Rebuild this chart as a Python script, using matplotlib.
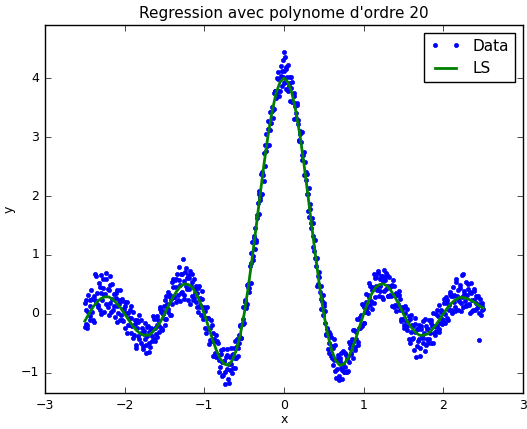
import matplotlib
matplotlib.use('Agg')
import matplotlib.pyplot as plt

plt.style.use('classic')

# noisy samples (x, y)
pts_a = [(-2.50, -0.22), (-2.49, 0.07), (-2.49, -0.17), (-2.48, 0.24), (-2.47, -0.24), (-2.46, 0.03),
         (-2.44, 0.24), (-2.43, -0.11), (-2.43, 0.14), (-2.42, 0.41), (-2.41, 0.03), (-2.39, 0.30),
         (-2.38, -0.14), (-2.37, 0.67), (-2.36, 0.19), (-2.35, 0.35), (-2.34, 0.15), (-2.32, 0.52),
         (-2.31, 0.06), (-2.30, 0.35), (-2.30, 0.66), (-2.29, 0.23), (-2.27, 0.44), (-2.26, 0.04),
         (-2.25, 0.34), (-2.24, 0.59), (-2.23, 0.17), (-2.21, 0.42), (-2.20, -0.02), (-2.19, 0.49),
         (-2.18, 0.19), (-2.18, 0.64), (-2.16, 0.26), (-2.15, 0.06), (-2.14, 0.34), (-2.12, -0.05),
         (-2.11, 0.27), (-2.10, 0.14), (-2.09, 0.41), (-2.08, 0.01), (-2.07, 0.17), (-2.06, -0.10),
         (-2.05, 0.22), (-2.04, -0.01), (-2.03, 0.25), (-2.02, -0.12), (-2.01, 0.09)]
pts_b = [(-2.00, 0.13), (-1.99, -0.23), (-1.98, 0.02), (-1.97, 0.21), (-1.96, -0.18), (-1.95, -0.07),
         (-1.93, 0.06), (-1.92, -0.33), (-1.92, -0.07), (-1.91, -0.20), (-1.90, 0.04), (-1.88, -0.35),
         (-1.87, -0.10), (-1.86, -0.52), (-1.85, -0.23), (-1.84, -0.11), (-1.83, -0.38), (-1.82, -0.02),
         (-1.80, -0.49), (-1.79, -0.32), (-1.78, -0.23), (-1.77, -0.55), (-1.76, -0.29), (-1.75, -0.42),
         (-1.74, -0.15), (-1.73, -0.67), (-1.72, -0.37), (-1.71, -0.20), (-1.70, -0.49), (-1.69, -0.31),
         (-1.68, -0.56), (-1.67, -0.23), (-1.66, -0.37), (-1.64, -0.03), (-1.63, -0.42), (-1.62, -0.23),
         (-1.61, -0.34), (-1.60, -0.04), (-1.59, -0.39), (-1.58, -0.11), (-1.57, -0.20), (-1.56, 0.08),
         (-1.55, -0.24), (-1.54, 0.04), (-1.53, -0.28), (-1.52, 0.00), (-1.51, 0.14)]
pts_c = [(-1.50, -0.08), (-1.49, 0.23), (-1.48, -0.08), (-1.47, 0.17), (-1.46, 0.37), (-1.45, 0.09),
         (-1.44, 0.30), (-1.43, -0.02), (-1.42, 0.26), (-1.41, 0.54), (-1.40, 0.17), (-1.39, 0.46),
         (-1.38, 0.29), (-1.37, 0.58), (-1.36, 0.20), (-1.35, 0.45), (-1.34, 0.68), (-1.33, 0.33),
         (-1.32, 0.57), (-1.31, 0.22), (-1.30, 0.49), (-1.29, 0.67), (-1.28, 0.37), (-1.27, 0.94),
         (-1.26, 0.56), (-1.25, 0.33), (-1.24, 0.72), (-1.23, 0.47), (-1.22, 0.61), (-1.21, 0.23),
         (-1.20, 0.66), (-1.19, 0.42), (-1.18, 0.73), (-1.17, 0.48), (-1.16, 0.31), (-1.15, 0.54),
         (-1.14, 0.23), (-1.13, 0.59), (-1.12, 0.35), (-1.11, 0.48), (-1.10, 0.21), (-1.09, 0.36),
         (-1.08, 0.04), (-1.07, 0.47), (-1.06, 0.16), (-1.05, 0.27), (-1.04, -0.02), (-1.03, 0.25),
         (-1.02, -0.01), (-1.01, 0.07)]
pts_d = [(-1.00, 0.11), (-0.99, -0.23), (-0.98, -0.06), (-0.97, 0.12), (-0.96, -0.25), (-0.95, -0.06),
         (-0.94, -0.51), (-0.93, -0.23), (-0.92, -0.46), (-0.91, -0.18), (-0.90, -0.45), (-0.89, -0.33),
         (-0.88, -0.71), (-0.87, -0.46), (-0.86, -0.67), (-0.85, -0.35), (-0.84, -0.69), (-0.83, -0.50),
         (-0.82, -0.98), (-0.81, -0.69), (-0.80, -0.90), (-0.79, -0.68), (-0.78, -0.82), (-0.77, -0.60),
         (-0.76, -1.03), (-0.75, -0.79), (-0.74, -1.18), (-0.73, -0.73), (-0.72, -0.94), (-0.71, -0.69),
         (-0.70, -1.10), (-0.69, -0.85), (-0.68, -0.95), (-0.67, -0.58), (-0.66, -0.85), (-0.65, -0.70),
         (-0.64, -0.92), (-0.63, -0.58), (-0.62, -0.75), (-0.61, -0.46), (-0.60, -0.75), (-0.59, -0.54),
         (-0.58, -0.72), (-0.57, -0.36), (-0.56, -0.49), (-0.55, -0.20), (-0.54, -0.41), (-0.53, -0.17),
         (-0.52, -0.17), (-0.51, 0.12)]
pts_e = [(-0.50, -0.15), (-0.49, 0.21), (-0.48, 0.14), (-0.47, 0.49), (-0.46, 0.17), (-0.45, 0.50),
         (-0.44, 0.44), (-0.43, 0.81), (-0.42, 0.52), (-0.41, 0.86), (-0.40, 1.22), (-0.39, 0.98),
         (-0.38, 1.29), (-0.37, 1.10), (-0.36, 1.45), (-0.35, 1.22), (-0.34, 1.62), (-0.33, 1.89),
         (-0.32, 1.69), (-0.31, 2.04), (-0.30, 1.99), (-0.29, 2.37), (-0.28, 2.04), (-0.27, 2.41),
         (-0.26, 2.35), (-0.25, 2.73), (-0.24, 2.51), (-0.23, 2.76), (-0.22, 3.05), (-0.21, 2.87),
         (-0.20, 3.14), (-0.19, 2.87), (-0.18, 3.24), (-0.17, 3.43), (-0.16, 3.23), (-0.15, 3.51),
         (-0.14, 3.47), (-0.13, 3.74), (-0.12, 3.47), (-0.11, 3.78), (-0.10, 3.66), (-0.09, 4.00),
         (-0.08, 3.78), (-0.07, 3.98), (-0.06, 3.69), (-0.05, 3.99), (-0.04, 4.21), (-0.03, 3.86),
         (-0.02, 4.12), (-0.01, 4.02)]
pts_f = [(0.00, 4.45), (0.00, 4.12), (0.01, 4.36), (0.01, 3.93), (0.02, 4.18), (0.03, 3.82),
         (0.04, 4.02), (0.05, 4.23), (0.06, 3.87), (0.07, 4.01), (0.08, 3.61), (0.09, 3.83),
         (0.10, 3.93), (0.11, 3.59), (0.12, 3.74), (0.13, 3.30), (0.14, 3.52), (0.15, 3.32),
         (0.16, 3.57), (0.17, 3.22), (0.18, 3.29), (0.19, 2.94), (0.20, 3.10), (0.21, 2.92),
         (0.22, 3.09), (0.23, 2.61), (0.24, 2.69), (0.25, 2.35), (0.26, 2.58), (0.27, 2.28),
         (0.28, 2.41), (0.29, 2.03), (0.30, 2.04), (0.31, 2.14), (0.32, 1.64), (0.33, 1.78),
         (0.34, 1.55), (0.35, 1.62), (0.36, 1.14), (0.37, 1.32), (0.38, 1.07), (0.39, 1.25),
         (0.40, 0.82), (0.41, 0.95), (0.42, 0.47), (0.43, 0.65), (0.44, 0.71), (0.45, 0.37),
         (0.46, 0.48), (0.47, 0.08), (0.48, 0.22), (0.49, -0.01)]
pts_g = [(0.50, 0.14), (0.51, -0.16), (0.52, 0.05), (0.53, -0.35), (0.54, -0.24), (0.55, -0.60),
         (0.56, -0.31), (0.57, -0.49), (0.58, -0.34), (0.59, -0.72), (0.60, -0.55), (0.61, -0.86),
         (0.62, -0.57), (0.63, -0.78), (0.64, -0.52), (0.65, -1.09), (0.66, -0.78), (0.67, -0.94),
         (0.68, -0.69), (0.69, -1.05), (0.70, -0.79), (0.71, -0.91), (0.72, -0.66), (0.73, -1.11),
         (0.74, -0.85), (0.75, -0.99), (0.76, -0.67), (0.77, -0.90), (0.78, -0.69), (0.79, -0.99),
         (0.80, -0.71), (0.81, -0.47), (0.82, -0.82), (0.83, -0.58), (0.84, -0.67), (0.85, -0.42),
         (0.86, -0.74), (0.87, -0.47), (0.88, -0.28), (0.89, -0.56), (0.90, -0.29), (0.91, -0.43),
         (0.92, -0.09), (0.93, -0.47), (0.94, -0.23), (0.95, -0.05), (0.96, -0.24), (0.97, -0.02),
         (0.98, -0.21), (0.99, 0.16)]
pts_h = [(1.00, -0.16), (1.01, 0.12), (1.02, 0.03), (1.03, 0.34), (1.04, 0.03), (1.05, 0.33),
         (1.06, 0.01), (1.07, 0.29), (1.08, 0.47), (1.09, 0.22), (1.10, 0.45), (1.11, 0.09),
         (1.12, 0.44), (1.13, 0.67), (1.14, 0.29), (1.15, 0.47), (1.16, 0.63), (1.17, 0.40),
         (1.18, 0.69), (1.19, 0.31), (1.20, 0.59), (1.21, 0.47), (1.22, 0.65), (1.23, 0.29),
         (1.24, 0.56), (1.25, 0.75), (1.26, 0.39), (1.27, 0.62), (1.28, 0.43), (1.29, 0.66),
         (1.30, 0.31), (1.31, 0.48), (1.32, 0.63), (1.33, 0.32), (1.34, 0.48), (1.35, 0.13),
         (1.36, 0.49), (1.37, 0.32), (1.38, 0.48), (1.39, 0.16), (1.40, 0.33), (1.41, 0.05),
         (1.42, 0.32), (1.43, 0.14), (1.44, 0.39), (1.45, 0.06), (1.46, 0.25), (1.47, -0.09),
         (1.48, 0.08), (1.49, -0.08)]
pts_i = [(1.50, 0.12), (1.51, -0.23), (1.52, 0.02), (1.53, -0.12), (1.54, 0.09), (1.55, -0.28),
         (1.56, -0.12), (1.57, -0.43), (1.58, -0.09), (1.59, -0.30), (1.60, -0.01), (1.61, -0.43),
         (1.62, -0.21), (1.63, -0.61), (1.64, -0.31), (1.65, -0.17), (1.66, -0.73), (1.67, -0.25),
         (1.68, -0.46), (1.69, -0.18), (1.70, -0.42), (1.71, -0.58), (1.72, -0.25), (1.73, -0.37),
         (1.74, -0.12), (1.75, -0.50), (1.76, -0.32), (1.77, -0.62), (1.78, -0.20), (1.79, -0.42),
         (1.80, -0.25), (1.81, -0.50), (1.82, -0.11), (1.83, -0.33), (1.84, -0.16), (1.85, -0.49),
         (1.86, -0.20), (1.87, 0.02), (1.88, -0.33), (1.89, -0.20), (1.90, -0.36), (1.91, 0.00),
         (1.92, -0.21), (1.93, -0.04), (1.94, -0.31), (1.95, 0.15), (1.96, -0.15), (1.97, 0.06),
         (1.98, -0.17), (1.99, 0.03)]
pts_j = [(2.00, -0.11), (2.01, 0.18), (2.02, 0.00), (2.03, 0.29), (2.04, -0.07), (2.05, 0.18),
         (2.06, -0.10), (2.07, 0.16), (2.08, 0.34), (2.09, 0.07), (2.10, 0.30), (2.11, 0.01),
         (2.12, 0.46), (2.13, 0.20), (2.14, 0.32), (2.15, 0.11), (2.16, 0.60), (2.17, 0.31),
         (2.18, 0.06), (2.19, 0.41), (2.20, 0.22), (2.21, 0.49), (2.22, 0.18), (2.23, 0.66),
         (2.24, 0.29), (2.25, 0.11), (2.26, 0.39), (2.27, 0.22), (2.28, 0.54), (2.29, 0.14),
         (2.30, 0.33), (2.31, 0.43), (2.32, 0.16), (2.33, 0.37), (2.34, 0.02), (2.35, 0.52),
         (2.36, 0.23), (2.37, 0.06), (2.38, 0.42), (2.39, 0.23), (2.40, 0.07), (2.41, 0.30),
         (2.42, 0.10), (2.43, 0.31), (2.44, 0.14), (2.45, -0.44), (2.46, 0.17), (2.47, -0.02),
         (2.48, 0.18), (2.49, 0.07), (2.50, 0.09)]
# second pass of samples in between the first ones
pts_k = [(-2.495, 0.19), (-2.475, -0.19), (-2.455, 0.32), (-2.435, -0.04), (-2.415, 0.26), (-2.395, -0.11),
         (-2.375, 0.24), (-2.355, 0.64), (-2.335, 0.11), (-2.315, 0.46), (-2.295, 0.00), (-2.275, 0.59),
         (-2.255, 0.32), (-2.235, 0.69), (-2.215, 0.12), (-2.195, 0.40), (-2.175, 0.04), (-2.155, 0.51),
         (-2.135, 0.13), (-2.115, 0.36), (-2.095, -0.14), (-2.075, 0.24), (-2.055, 0.40), (-2.035, -0.11),
         (-2.015, 0.08), (-1.995, 0.20), (-1.975, -0.33), (-1.955, 0.02), (-1.935, -0.19), (-1.915, 0.13),
         (-1.895, -0.40), (-1.875, -0.17), (-1.855, -0.57), (-1.835, -0.14), (-1.815, -0.43), (-1.795, -0.11),
         (-1.775, -0.60), (-1.755, -0.34), (-1.735, -0.53), (-1.715, -0.22), (-1.695, -0.64), (-1.675, -0.25),
         (-1.655, -0.45), (-1.635, -0.08), (-1.615, -0.46), (-1.595, -0.18), (-1.575, -0.30), (-1.555, 0.11),
         (-1.535, -0.25), (-1.515, 0.05)]
pts_l = [(-1.495, -0.18), (-1.475, 0.31), (-1.455, 0.04), (-1.435, 0.33), (-1.415, -0.01), (-1.395, 0.59),
         (-1.375, 0.28), (-1.355, 0.59), (-1.335, 0.23), (-1.315, 0.80), (-1.295, 0.36), (-1.275, 0.68),
         (-1.255, 0.25), (-1.235, 0.78), (-1.215, 0.42), (-1.195, 0.61), (-1.175, 0.17), (-1.155, 0.68),
         (-1.135, 0.27), (-1.115, 0.43), (-1.095, 0.11), (-1.075, 0.44), (-1.055, 0.11), (-1.035, 0.39),
         (-1.015, -0.09), (-0.995, 0.05), (-0.975, -0.32), (-0.955, -0.06), (-0.935, -0.44), (-0.915, -0.11),
         (-0.895, -0.72), (-0.875, -0.43), (-0.855, -0.73), (-0.835, -0.45), (-0.815, -0.78), (-0.795, -0.61),
         (-0.775, -1.06), (-0.755, -0.80), (-0.735, -0.98), (-0.715, -0.60), (-0.695, -1.17), (-0.675, -0.73),
         (-0.655, -1.00), (-0.635, -0.68), (-0.615, -0.91), (-0.595, -0.43), (-0.575, -0.58), (-0.555, -0.18),
         (-0.535, -0.41), (-0.515, -0.09)]
pts_m = [(-0.495, 0.23), (-0.475, 0.10), (-0.455, 0.46), (-0.435, 0.38), (-0.415, 1.04), (-0.395, 0.92),
         (-0.375, 1.32), (-0.355, 1.25), (-0.335, 1.67), (-0.315, 2.08), (-0.295, 1.94), (-0.275, 2.38),
         (-0.255, 2.25), (-0.235, 2.86), (-0.215, 2.85), (-0.195, 3.27), (-0.175, 3.12), (-0.155, 3.45),
         (-0.135, 3.33), (-0.115, 3.78), (-0.095, 3.74), (-0.075, 4.10), (-0.055, 3.78), (-0.035, 4.04),
         (-0.015, 4.30), (0.005, 3.91), (0.025, 4.15), (0.045, 3.78), (0.065, 3.91), (0.085, 4.01),
         (0.105, 3.59), (0.125, 3.69), (0.145, 3.41), (0.165, 3.55), (0.185, 2.95), (0.205, 3.05),
         (0.225, 2.70), (0.245, 2.75), (0.265, 2.36), (0.285, 2.37), (0.305, 1.75), (0.325, 1.87),
         (0.345, 1.46), (0.365, 1.54), (0.385, 0.95), (0.405, 0.94), (0.425, 0.51), (0.445, 0.63),
         (0.465, 0.25), (0.485, 0.33)]
pts_n = [(0.505, 0.18), (0.525, -0.34), (0.545, -0.25), (0.565, -0.67), (0.585, -0.39), (0.605, -0.74),
         (0.625, -0.42), (0.645, -0.96), (0.665, -0.77), (0.685, -1.12), (0.705, -0.74), (0.725, -0.95),
         (0.745, -0.62), (0.765, -0.99), (0.785, -0.77), (0.805, -0.97), (0.825, -0.51), (0.845, -0.68),
         (0.865, -0.28), (0.885, -0.61), (0.905, -0.31), (0.925, -0.52), (0.945, -0.08), (0.965, -0.19),
         (0.985, 0.17), (1.005, -0.16), (1.025, 0.21), (1.045, 0.10), (1.065, 0.52), (1.085, 0.16),
         (1.105, 0.41), (1.125, 0.19), (1.145, 0.61), (1.165, 0.45), (1.185, 0.73), (1.205, 0.39),
         (1.225, 0.64), (1.245, 0.26), (1.265, 0.58), (1.285, 0.69), (1.305, 0.30), (1.325, 0.46),
         (1.345, 0.30), (1.365, 0.57), (1.385, 0.11), (1.405, 0.35), (1.425, 0.17), (1.445, 0.32),
         (1.465, -0.12), (1.485, 0.11)]
pts_o = [(1.505, -0.18), (1.525, 0.13), (1.545, -0.20), (1.565, -0.04), (1.585, -0.49), (1.605, -0.19),
         (1.625, -0.41), (1.645, -0.07), (1.665, -0.55), (1.685, -0.26), (1.705, -0.71), (1.725, -0.20),
         (1.745, -0.40), (1.765, -0.09), (1.785, -0.53), (1.805, -0.26), (1.825, -0.43), (1.845, -0.10),
         (1.865, -0.50), (1.885, -0.20), (1.905, -0.29), (1.925, 0.06), (1.945, -0.26), (1.965, 0.04),
         (1.985, -0.09), (2.005, 0.26), (2.025, -0.15), (2.045, 0.23), (2.065, 0.07), (2.085, 0.37),
         (2.105, 0.05), (2.125, 0.30), (2.145, 0.05), (2.165, 0.55), (2.185, 0.25), (2.205, 0.44),
         (2.225, 0.05), (2.245, 0.68), (2.265, 0.34), (2.285, 0.16), (2.305, 0.50), (2.325, 0.17),
         (2.345, 0.36), (2.365, 0.05), (2.385, 0.39), (2.405, 0.18), (2.425, 0.28), (2.445, 0.01),
         (2.465, 0.25), (2.485, 0.14)]

# least squares curve (degree 20), sampled every 0.05
ls_x = [-2.50, -2.45, -2.40, -2.35, -2.30, -2.25, -2.20, -2.15, -2.10, -2.05,
        -2.00, -1.95, -1.90, -1.85, -1.80, -1.75, -1.70, -1.65, -1.60, -1.55,
        -1.50, -1.45, -1.40, -1.35, -1.30, -1.25, -1.20, -1.15, -1.10, -1.05,
        -1.00, -0.95, -0.90, -0.85, -0.80, -0.75, -0.70, -0.65, -0.60, -0.55,
        -0.50, -0.45, -0.40, -0.35, -0.30, -0.25, -0.20, -0.15, -0.10, -0.05,
        0.00, 0.05, 0.10, 0.15, 0.20, 0.25, 0.30, 0.35, 0.40, 0.45,
        0.50, 0.55, 0.60, 0.65, 0.70, 0.75, 0.80, 0.85, 0.90, 0.95,
        1.00, 1.05, 1.10, 1.15, 1.20, 1.25, 1.30, 1.35, 1.40, 1.45,
        1.50, 1.55, 1.60, 1.65, 1.70, 1.75, 1.80, 1.85, 1.90, 1.95,
        2.00, 2.05, 2.10, 2.15, 2.20, 2.25, 2.30, 2.35, 2.40, 2.45, 2.50]
ls_y = [-0.12, 0.00, 0.11, 0.20, 0.26, 0.29, 0.29, 0.25, 0.18, 0.10,
        0.00, -0.10, -0.20, -0.28, -0.34, -0.36, -0.36, -0.31, -0.23, -0.13,
        0.00, 0.14, 0.27, 0.38, 0.47, 0.51, 0.50, 0.45, 0.34, 0.19,
        0.00, -0.21, -0.42, -0.61, -0.76, -0.85, -0.87, -0.79, -0.62, -0.36,
        0.00, 0.44, 0.94, 1.47, 2.02, 2.55, 3.03, 3.43, 3.74, 3.93,
        4.00, 3.93, 3.74, 3.43, 3.03, 2.55, 2.02, 1.47, 0.94, 0.44,
        0.00, -0.36, -0.62, -0.79, -0.87, -0.85, -0.76, -0.61, -0.42, -0.21,
        0.00, 0.19, 0.34, 0.45, 0.50, 0.51, 0.47, 0.38, 0.27, 0.14,
        0.00, -0.13, -0.23, -0.31, -0.36, -0.36, -0.34, -0.28, -0.20, -0.10,
        0.00, 0.10, 0.18, 0.24, 0.28, 0.28, 0.26, 0.23, 0.19, 0.14, 0.10]

data = (pts_a + pts_b + pts_c + pts_d + pts_e + pts_f + pts_g + pts_h + pts_i + pts_j
        + pts_k + pts_l + pts_m + pts_n + pts_o)
data.sort()
xd = [p[0] for p in data]
yd = [p[1] for p in data]

fig = plt.figure(figsize=(5.27, 4.29), dpi=100, facecolor='white')
ax = fig.add_axes([45/527., 36/429., 478/527., 368/429.])
ax.plot(xd, yd, 'b.', markersize=6, label='Data')
ax.plot(ls_x, ls_y, 'g', linewidth=2, label='LS')
ax.set_xlim(-3, 3)
ax.set_ylim(-1.34, 4.9)
ax.set_yticks([-1, 0, 1, 2, 3, 4])
ax.tick_params(labelsize=9)
ax.set_xlabel('x', fontsize=9, labelpad=1)
ax.set_ylabel('y', fontsize=9, labelpad=4)
ax.set_title("Regression avec polynome d'ordre 20", fontsize=11)
ax.legend(loc='upper right', numpoints=2, fontsize=11)

fig.savefig('out.png', dpi=100, facecolor='white')
